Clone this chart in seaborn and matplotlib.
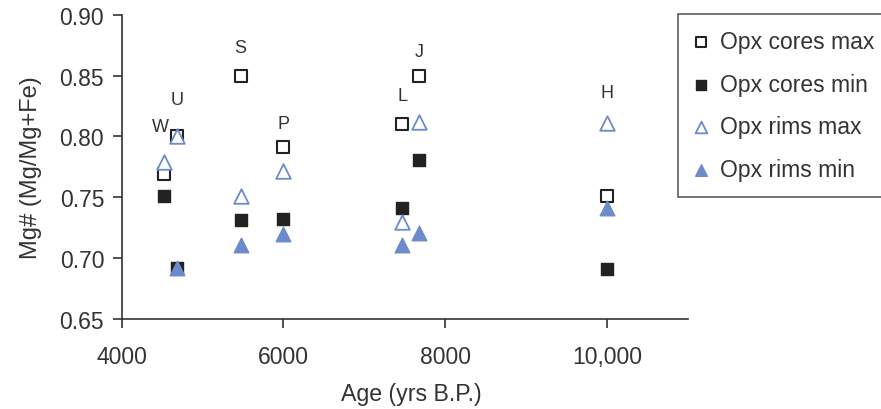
import numpy as np
import pandas as pd
import matplotlib
matplotlib.use("Agg")
import matplotlib.pyplot as plt
import seaborn as sns

# Sample sites and ages (yrs B.P.)
sites = ["W", "U", "S", "P", "L", "J", "H"]
age = [4530, 4690, 5470, 6000, 7470, 7680, 10000]

# Mg# values
cores_max = [0.769, 0.800, 0.850, 0.791, 0.810, 0.850, 0.751]
cores_min = [0.751, 0.692, 0.731, 0.732, 0.741, 0.781, 0.691]
rims_max = [0.779, 0.800, 0.751, 0.772, 0.730, 0.812, 0.811]
rims_min = [np.nan, 0.692, 0.711, 0.720, 0.711, 0.721, 0.741]

df = pd.DataFrame({"site": sites, "age": age,
                   "Opx cores max": cores_max, "Opx cores min": cores_min,
                   "Opx rims max": rims_max, "Opx rims min": rims_min})

sns.set_style("ticks")
plt.rcParams["font.family"] = ["Liberation Sans", "DejaVu Sans"]

blue = "#6b8bcc"
dark = "#222222"
txt = "#333333"

fig = plt.figure(figsize=(8.81, 4.10), dpi=100)
ax = fig.add_axes([0.138, 0.2195, 0.643, 0.742])

styles = {
    "Opx cores max": dict(marker="s", s=80, facecolor="white", edgecolor=dark, linewidth=1.5),
    "Opx cores min": dict(marker="s", s=80, color=dark, edgecolor=dark, linewidth=1),
    "Opx rims max": dict(marker="^", s=110, facecolor="white", edgecolor=blue, linewidth=1.3),
    "Opx rims min": dict(marker="^", s=110, color=blue, edgecolor=blue, linewidth=1),
}
for name, st in styles.items():
    sns.scatterplot(data=df, x="age", y=name, ax=ax, label=name, zorder=3, **st)

# site labels above each group
offsets = {"W": (-4, 36), "U": (0, 37), "S": (0, 28), "P": (0, 24),
           "L": (0, 29), "J": (0, 24), "H": (0, 31)}
top = df[["Opx cores max", "Opx cores min", "Opx rims max", "Opx rims min"]].max(axis=1)
for s, a, t in zip(df["site"], df["age"], top):
    dx, dy = offsets[s]
    ax.annotate(s, (a, t), xytext=(dx, dy), textcoords="offset pixels",
                ha="center", va="center", fontsize=13, color=txt)

ax.set_xlim(4000, 11000)
ax.set_ylim(0.65, 0.90)
ax.set_xticks([4000, 6000, 8000, 10000])
ax.set_xticklabels(["4000", "6000", "8000", "10,000"])
ax.set_yticks(np.arange(0.65, 0.901, 0.05))
ax.set_yticklabels([f"{v:.2f}" for v in np.arange(0.65, 0.901, 0.05)])
ax.tick_params(labelsize=16.5, colors=txt, length=6.5, width=1.2)
ax.tick_params(axis="x", pad=12)
ax.tick_params(axis="y", pad=6)
ax.set_xlabel("Age (yrs B.P.)", fontsize=16.7, color=txt, labelpad=10)
ax.xaxis.label.set_x(0.512)
ax.set_ylabel("Mg# (Mg/Mg+Fe)", fontsize=17, color=txt, labelpad=13)
for sp in ["left", "bottom"]:
    ax.spines[sp].set_color(txt)
    ax.spines[sp].set_linewidth(1.2)
sns.despine(ax=ax)

leg = ax.legend(loc="upper left", bbox_to_anchor=(0.7696, 0.963), bbox_transform=fig.transFigure,
                borderaxespad=0, fontsize=16.5, frameon=True, fancybox=False, markerscale=0.8,
                handletextpad=0.55, labelspacing=0.85, borderpad=0.7, handlelength=0.6)
leg.get_frame().set_edgecolor(txt)
leg.get_frame().set_linewidth(1.2)
for t in leg.get_texts():
    t.set_color(txt)

fig.savefig("out.png", dpi=100)
